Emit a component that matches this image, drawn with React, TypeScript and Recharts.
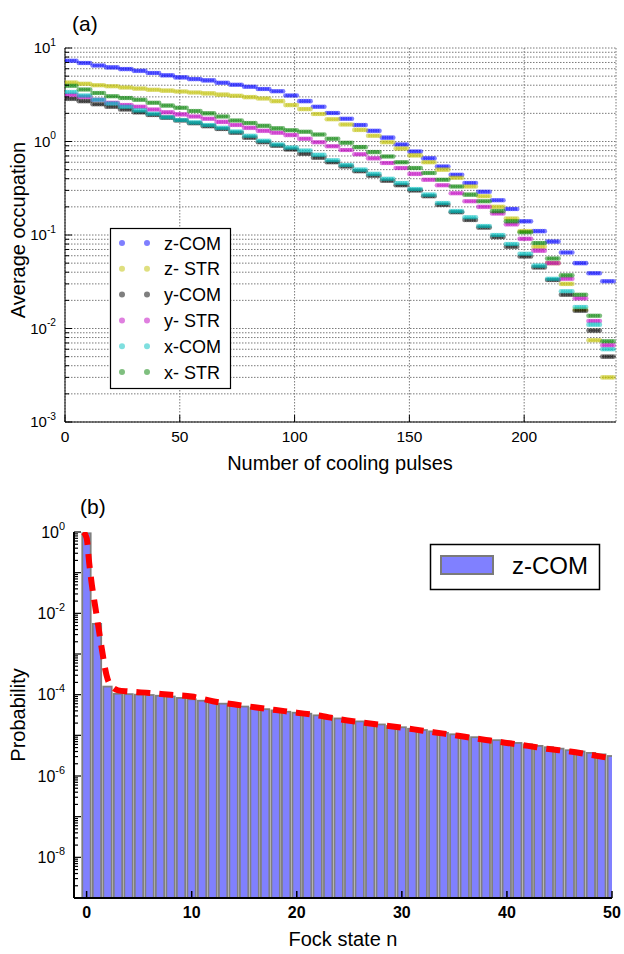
import React from 'react';
import { ComposedChart, Scatter, Bar, Line, XAxis, YAxis, CartesianGrid } from 'recharts';

const FONT = '"Liberation Sans", Arial, Helvetica, sans-serif';

// ---------- (a) average occupation vs. number of cooling pulses ----------
// every mode is addressed once per block of 6 pulses, one value per block
const blockStart = [
  0, 6, 12, 18, 24, 30, 36, 42, 48, 54, 60, 66, 72, 78, 84, 90, 96, 102, 108, 114,
  120, 126, 132, 138, 144, 150, 156, 162, 168, 174, 180, 186, 192, 198, 204, 210, 216, 222, 228, 234,
];

const zCom = [
  7.3, 6.9, 6.5, 6.2, 5.95, 5.7, 5.4, 5.1, 4.85, 4.65, 4.5, 4.25, 4.05, 3.85, 3.65, 3.45, 3.1, 2.7, 2.35, 2.02,
  1.75, 1.5, 1.3, 1.1, 0.93, 0.78, 0.66, 0.54, 0.44, 0.36, 0.29, 0.235, 0.19, 0.14, 0.11, 0.085, 0.065, 0.05, 0.039, 0.032,
];
const zStr = [
  4.27, 4.15, 4.0, 3.9, 3.78, 3.68, 3.58, 3.5, 3.42, 3.34, 3.27, 3.17, 3.08, 2.98, 2.88, 2.7, 2.45, 2.22, 1.97, 1.73,
  1.52, 1.33, 1.15, 0.98, 0.84, 0.71, 0.6, 0.5, 0.41, 0.33, 0.26, 0.2, 0.15, 0.11, 0.075, 0.05, 0.03, 0.016, 0.0075, 0.003,
];
const yCom = [
  2.86, 2.7, 2.5, 2.35, 2.2, 2.05, 1.92, 1.8, 1.68, 1.57, 1.46, 1.36, 1.24, 1.1, 0.98, 0.9, 0.82, 0.74, 0.67, 0.6,
  0.54, 0.48, 0.43, 0.38, 0.34, 0.3, 0.26, 0.21, 0.175, 0.145, 0.12, 0.095, 0.075, 0.059, 0.045, 0.033, 0.023, 0.0155, 0.0095, 0.005,
];
const yStr = [
  3.16, 3.0, 2.8, 2.6, 2.45, 2.35, 2.2, 2.05, 1.95, 1.85, 1.75, 1.62, 1.5, 1.4, 1.3, 1.24, 1.17, 1.07, 0.98, 0.89,
  0.81, 0.73, 0.66, 0.59, 0.52, 0.45, 0.39, 0.34, 0.28, 0.23, 0.2, 0.17, 0.13, 0.091, 0.068, 0.05, 0.034, 0.021, 0.012, 0.0066,
];
const xCom = [
  3.38, 3.1, 2.8, 2.55, 2.35, 2.15, 1.98, 1.82, 1.7, 1.6, 1.5, 1.4, 1.28, 1.15, 1.02, 0.93, 0.86, 0.8, 0.72, 0.63,
  0.56, 0.5, 0.45, 0.4, 0.36, 0.31, 0.27, 0.22, 0.18, 0.155, 0.125, 0.1, 0.08, 0.063, 0.047, 0.034, 0.025, 0.017, 0.011, 0.006,
];
const xStr = [
  3.95, 3.6, 3.3, 3.05, 2.92, 2.8, 2.6, 2.42, 2.3, 2.12, 2.0, 1.85, 1.68, 1.58, 1.47, 1.38, 1.32, 1.27, 1.19, 1.07,
  0.97, 0.87, 0.77, 0.69, 0.6, 0.52, 0.46, 0.39, 0.33, 0.27, 0.23, 0.18, 0.14, 0.107, 0.082, 0.056, 0.037, 0.023, 0.0137, 0.0073,
];

const modes = [
  { name: 'z-COM', values: zCom, color: '#0000ff' },
  { name: 'z- STR', values: zStr, color: '#bfbf00' },
  { name: 'y-COM', values: yCom, color: '#000000' },
  { name: 'y- STR', values: yStr, color: '#bf00bf' },
  { name: 'x-COM', values: xCom, color: '#00bfbf' },
  { name: 'x- STR', values: xStr, color: '#008000' },
];

const pulseTicks = [0, 50, 100, 150, 200];
const occDecades = [-3, -2, -1, 0];

// ---------- (b) Fock state distribution of z-COM ----------
const fockN = [
  0, 1, 2, 3, 4, 5, 6, 7, 8, 9, 10, 11, 12, 13, 14, 15, 16, 17, 18, 19, 20, 21, 22, 23, 24, 25,
  26, 27, 28, 29, 30, 31, 32, 33, 34, 35, 36, 37, 38, 39, 40, 41, 42, 43, 44, 45, 46, 47, 48, 49, 50,
];
const fockP = [
  0.93, 5.5e-3, 1.58e-4, 1.05e-4, 1.03e-4, 1.0e-4, 9.8e-5, 9.4e-5, 9.0e-5, 8.3e-5, 7.7e-5, 7.1e-5, 6.5e-5,
  6.0e-5, 5.5e-5, 5.1e-5, 4.7e-5, 4.4e-5, 4.1e-5, 3.8e-5, 3.6e-5, 3.4e-5, 3.1e-5, 2.85e-5, 2.6e-5, 2.4e-5,
  2.2e-5, 2.0e-5, 1.85e-5, 1.7e-5, 1.58e-5, 1.45e-5, 1.35e-5, 1.25e-5, 1.15e-5, 1.06e-5, 9.8e-6, 9.0e-6,
  8.3e-6, 7.6e-6, 7.0e-6, 6.5e-6, 6.0e-6, 5.5e-6, 5.1e-6, 4.7e-6, 4.3e-6, 4.0e-6, 3.7e-6, 3.4e-6, 3.1e-6,
];

// fitted distribution (red dashed curve)
const fitN = [
  -0.3, 0, 0.25, 0.5, 0.75, 1, 1.25, 1.5, 1.75, 2, 2.5, 3, 4, 6, 8, 10, 12, 14, 16, 18, 20,
  22, 24, 26, 28, 30, 32, 34, 36, 38, 40, 42, 44, 46, 48, 50,
];
const fitP = [
  1.0, 0.71, 0.17, 0.05, 0.019, 7.5e-3, 2.8e-3, 1.1e-3, 4.5e-4, 2.4e-4, 1.5e-4, 1.28e-4, 1.2e-4, 1.1e-4,
  9.9e-5, 9.0e-5, 6.9e-5, 5.8e-5, 4.9e-5, 4.2e-5, 3.6e-5, 3.1e-5, 2.5e-5, 2.1e-5, 1.8e-5, 1.55e-5, 1.3e-5,
  1.1e-5, 9.2e-6, 7.7e-6, 6.5e-6, 5.5e-6, 4.6e-6, 4.0e-6, 3.3e-6, 2.7e-6,
];

const fockTicks = [0, 10, 20, 30, 40, 50];
const probDecades = [-9, -8, -7, -6, -5, -4, -3, -2, -1];

const fockData = fockN.map((n, i) => ({ n, p: fockP[i] }));
const fitData = fitN.map((n, i) => ({ n, p: fitP[i] }));

// ---------- helpers ----------
const logTicks = (decades: number[]) =>
  decades.flatMap((e) => [1, 2, 3, 4, 5, 6, 7, 8, 9].map((m) => m * Math.pow(10, e))).concat([Math.pow(10, decades[decades.length - 1] + 1)]);

const decadeOf = (v: number) => {
  const e = Math.round(Math.log10(v));
  return { e, isDecade: Math.abs(Math.log10(v) - e) < 1e-6 };
};

const TICK_GAP = 9;

const leftLogTick = (labelStep: number, lw: number, size: number) => (props: any) => {
  const { x, y, payload } = props;
  const { e, isDecade } = decadeOf(payload.value);
  const ax = x + TICK_GAP;
  return (
    <g>
      <line x1={ax} x2={ax + (isDecade ? 7 : 4)} y1={y} y2={y} stroke="#000" strokeWidth={lw} />
      {isDecade && e % labelStep === 0 ? (
        <text x={x} y={y + size * 0.36} textAnchor="end" fontFamily={FONT} fontSize={size} fill="#000">
          10
          <tspan dy={-size * 0.5} fontSize={size * 0.68}>
            {e}
          </tspan>
        </text>
      ) : null}
    </g>
  );
};

const rightLogTick = (lw: number) => (props: any) => {
  const { x, y, payload } = props;
  const { isDecade } = decadeOf(payload.value);
  return <line x1={x} x2={x - (isDecade ? 7 : 4)} y1={y} y2={y} stroke="#000" strokeWidth={lw} />;
};

const bottomTick = (lw: number, size: number, weight: string) => (props: any) => {
  const { x, y, payload } = props;
  return (
    <g>
      <line x1={x} x2={x} y1={y} y2={y - 7} stroke="#000" strokeWidth={lw} />
      <text x={x} y={y + size + 4} textAnchor="middle" fontFamily={FONT} fontSize={size} fontWeight={weight} fill="#000">
        {payload.value}
      </text>
    </g>
  );
};

const topTick = (lw: number) => (props: any) => {
  const { x, y } = props;
  return <line x1={x} x2={x} y1={y} y2={y + 7} stroke="#000" strokeWidth={lw} />;
};

// a block of six pulses drawn as a short run of translucent dots
const PX_PER_PULSE = 551 / 240;
const blockShape = (color: string) => (props: any) => {
  const { cx, cy } = props;
  if (cx == null || cy == null) return <g />;
  return (
    <g>
      {[0, 1, 2, 3, 4, 5].map((j) => (
        <circle key={j} cx={cx + j * PX_PER_PULSE} cy={cy} r={2.3} fill={color} fillOpacity={0.5} />
      ))}
    </g>
  );
};

// histogram bar, 0.8 of a Fock level wide, centred on its level
const BAR_W = 0.8 * (538 / 51.2);
const fockBar = (props: any) => {
  const { x, y, width, height } = props;
  if (x == null || height == null || height <= 0) return <g />;
  const cx = x + width / 2;
  return (
    <rect x={cx - BAR_W / 2} y={y} width={BAR_W} height={height} fill="#8080ff" stroke="#7f7f7f" strokeWidth={1.8} />
  );
};

const occTicks = logTicks(occDecades);
const probTicks = logTicks(probDecades);

export default function App() {
  return (
    <div style={{ position: 'absolute', left: 0, top: 0, width: 624, height: 954, background: '#fff', fontFamily: FONT }}>
      {/* (a) */}
      <div style={{ position: 'absolute', left: 0, top: 0 }}>
        <ComposedChart width={624} height={480} margin={{ top: 48, right: 8, left: 15, bottom: 28 }}>
          <CartesianGrid stroke="#7a7a7a" strokeDasharray="1.5 1.5" />
          <XAxis
            dataKey="pulse"
            type="number"
            domain={[0, 240]}
            allowDataOverflow
            ticks={pulseTicks}
            interval={0}
            height={30}
            tickSize={0}
            tickMargin={0}
            tickLine={false}
            axisLine={{ stroke: '#000', strokeWidth: 1 }}
            tick={bottomTick(1, 15.5, 'normal')}
          />
          <XAxis
            xAxisId="top"
            orientation="top"
            type="number"
            domain={[0, 240]}
            allowDataOverflow
            ticks={pulseTicks}
            interval={0}
            height={0}
            tickSize={0}
            tickMargin={0}
            tickLine={false}
            axisLine={{ stroke: '#000', strokeWidth: 1 }}
            tick={topTick(1)}
          />
          <YAxis
            dataKey="occ"
            type="number"
            scale="log"
            domain={[1e-3, 10]}
            allowDataOverflow
            ticks={occTicks}
            interval={0}
            width={50}
            tickSize={0}
            tickMargin={TICK_GAP}
            tickLine={false}
            axisLine={{ stroke: '#000', strokeWidth: 1 }}
            tick={leftLogTick(1, 1, 15)}
          />
          <YAxis
            yAxisId="r"
            orientation="right"
            type="number"
            scale="log"
            domain={[1e-3, 10]}
            allowDataOverflow
            ticks={occTicks}
            interval={0}
            width={0}
            tickSize={0}
            tickMargin={0}
            tickLine={false}
            axisLine={{ stroke: '#000', strokeWidth: 1 }}
            tick={rightLogTick(1)}
          />
          {modes.map((m) => (
            <Scatter
              key={m.name}
              name={m.name}
              data={m.values.map((v, i) => ({ pulse: blockStart[i], occ: v }))}
              fill={m.color}
              shape={blockShape(m.color)}
              isAnimationActive={false}
            />
          ))}
        </ComposedChart>
      </div>

      {/* (b) */}
      <div style={{ position: 'absolute', left: 0, top: 480 }}>
        <ComposedChart width={624} height={474} data={fockData} margin={{ top: 52, right: 12, left: 24, bottom: 26 }}>
          <XAxis
            dataKey="n"
            type="number"
            domain={[-1.2, 50]}
            allowDataOverflow
            ticks={fockTicks}
            interval={0}
            height={30}
            tickSize={0}
            tickMargin={0}
            tickLine={false}
            axisLine={{ stroke: '#000', strokeWidth: 2 }}
            tick={bottomTick(1.5, 16, 'bold')}
          />
          <XAxis
            xAxisId="top"
            orientation="top"
            type="number"
            domain={[-1.2, 50]}
            allowDataOverflow
            ticks={fockTicks}
            interval={0}
            height={0}
            tickSize={0}
            tickMargin={0}
            tickLine={false}
            axisLine={{ stroke: '#000', strokeWidth: 2 }}
            tick={topTick(1.5)}
          />
          <YAxis
            type="number"
            scale="log"
            domain={[1e-9, 1]}
            allowDataOverflow
            ticks={probTicks}
            interval={0}
            width={50}
            tickSize={0}
            tickMargin={TICK_GAP}
            tickLine={false}
            axisLine={{ stroke: '#000', strokeWidth: 2 }}
            tick={leftLogTick(2, 1.2, 16)}
          />
          <YAxis
            yAxisId="r"
            orientation="right"
            type="number"
            scale="log"
            domain={[1e-9, 1]}
            allowDataOverflow
            ticks={probTicks}
            interval={0}
            width={0}
            tickSize={0}
            tickMargin={0}
            tickLine={false}
            axisLine={{ stroke: '#000', strokeWidth: 2 }}
            tick={rightLogTick(1.2)}
          />
          <Bar dataKey="p" barSize={8} shape={fockBar} isAnimationActive={false} />
          <Line
            data={fitData}
            dataKey="p"
            type="monotone"
            stroke="#ff0000"
            strokeWidth={6}
            strokeDasharray="14 9"
            dot={false}
            isAnimationActive={false}
          />
        </ComposedChart>
      </div>

      {/* titles, axis names and legends */}
      <svg width={624} height={954} style={{ position: 'absolute', left: 0, top: 0, pointerEvents: 'none' }}>
        <text x={72} y={31} fontFamily={FONT} fontSize={21} fill="#000">(a)</text>
        <text x={80} y={514} fontFamily={FONT} fontSize={21} fill="#000">(b)</text>
        <text x={340} y={470} textAnchor="middle" fontFamily={FONT} fontSize={20} fill="#000">
          Number of cooling pulses
        </text>
        <text transform="translate(25,230) rotate(-90)" textAnchor="middle" fontFamily={FONT} fontSize={20} fill="#000">
          Average occupation
        </text>
        <text x={343} y={946} textAnchor="middle" fontFamily={FONT} fontSize={20} fill="#000">
          Fock state n
        </text>
        <text transform="translate(25,715) rotate(-90)" textAnchor="middle" fontFamily={FONT} fontSize={20} fill="#000">
          Probability
        </text>

        {/* legend (a) */}
        <rect x={110.5} y={228.5} width={120} height={160} fill="#fff" stroke="#000" strokeWidth={1.2} />
        {modes.map((m, i) => (
          <g key={m.name}>
            <circle cx={122} cy={243 + i * 25.8} r={3} fill={m.color} fillOpacity={0.5} />
            <circle cx={147} cy={243 + i * 25.8} r={3} fill={m.color} fillOpacity={0.5} />
            <text x={164} y={249.5 + i * 25.8} fontFamily={FONT} fontSize={18} fill="#000">
              {m.name}
            </text>
          </g>
        ))}

        {/* legend (b) */}
        <rect x={430.5} y={544.5} width={169} height={45} fill="#fff" stroke="#000" strokeWidth={1.5} />
        <rect x={441} y={556} width={52} height={18} fill="#8080ff" stroke="#7a7a7a" strokeWidth={2} />
        <text x={512} y={574} fontFamily={FONT} fontSize={24} fill="#000">z-COM</text>
      </svg>
    </div>
  );
}
